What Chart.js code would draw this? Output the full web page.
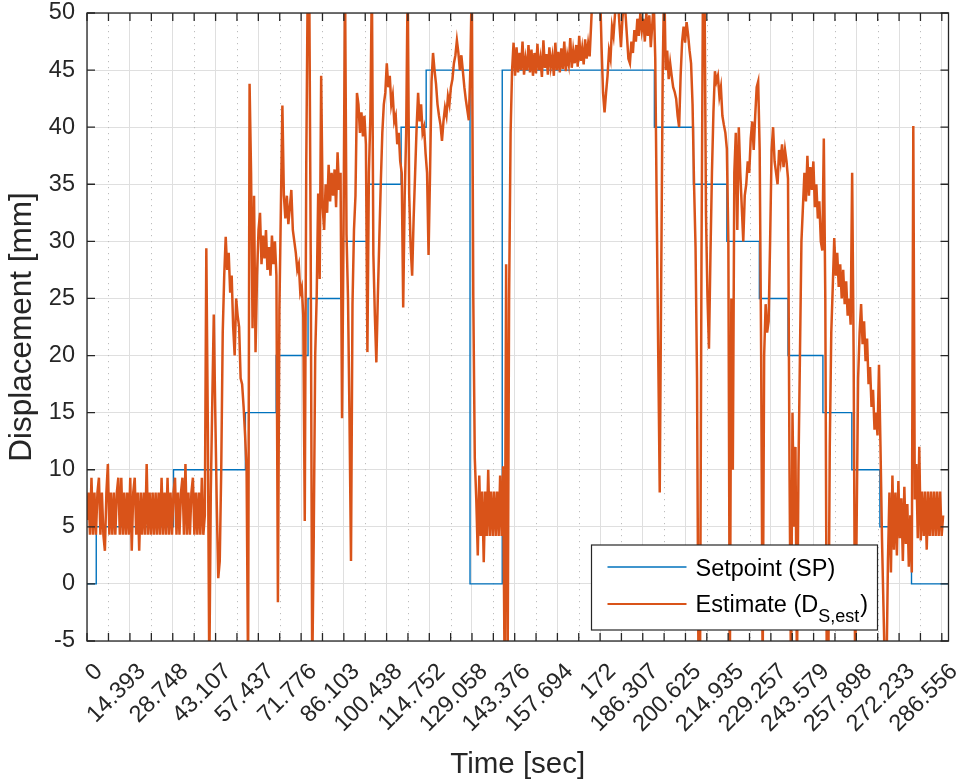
<!DOCTYPE html>
<html>
<head>
<meta charset="utf-8">
<script src="https://cdn.jsdelivr.net/npm/chart.js@4.4.1/dist/chart.umd.min.js"></script>
<style>
  html, body { margin: 0; padding: 0; background: #fff; }
  #wrap { width: 965px; height: 783px; }
</style>
</head>
<body>
<div id="wrap"><canvas id="plot" width="965" height="783"></canvas></div>
<script>
// tick values on the time axis (also used as the tick labels)
const xTicks = [0, 14.393, 28.748, 43.107, 57.437, 71.776, 86.103, 100.438, 114.752, 129.058,
  143.376, 157.694, 172, 186.307, 200.625, 214.935, 229.257, 243.579, 257.898, 272.233, 286.556];
const xMax = 288.8;

// setpoint: new value starts at the given time
const spTime  = [0, 3.1, 29.0, 53.1, 63.4, 74.1, 85.2, 94.2, 105.3, 113.7, 128.4, 139.2,
  190.2, 203.3, 214.5, 225.4, 235.0, 246.7, 256.4, 265.8, 276.4, 288.8];
const spValue = [0, 5, 10, 15, 20, 25, 30, 35, 40, 45, 0, 45,
  40, 35, 30, 25, 20, 15, 10, 5, 0, 0];

// estimate, one value every estStep seconds starting at t = 0
const estStep = 0.5;
const estValue = [
  5.6, 8, 4.3, 9.3, 4.3, 8, 4.3, 8, 9.3, 4.3, 8, 4.3, 2.9, 8, 10.5, 4.3, 8, 4.3, 8, 4.3,
  8, 9.3, 4.3, 9.3, 4.3, 8, 4.3, 8, 4.3, 9.3, 2.9, 8, 9.3, 4.3, 8, 2.9, 8, 4.3, 8, 4.3,
  10.5, 4.3, 8, 4.3, 8, 4.3, 8, 4.3, 8, 4.3, 9.3, 4.3, 8, 4.3, 9.3, 4.3, 8, 4.3, 8, 9.3,
  4.3, 8, 4.3, 8, 9.3, 4.3, 10.5, 4.3, 8, 4.3, 8, 9.3, 4.3, 8, 4.3, 8, 4.3, 9.3, 4.3, 6,
  29.4, 14, -8, 8, 16, 23.6, 15, 7, 0.5, 2, 10, 22, 27, 30.4, 27.5, 29, 25.5, 27, 22.5, 20,
  25, 23.5, 22.5, 18, 17.5, 15.5, 13, 10, -8, 43.8, 36, 22.4, 34, 20.3, 27, 31, 32.5, 28, 30.5, 28.5,
  31, 27.5, 29.5, 27, 30.5, 28, 30, 27, -1.6, 24, 33, 41.9, 34, 32, 34, 31.5, 33, 34.5, 31, 30,
  29, 27.5, 28, 25.5, 26, 23.5, 5.5, 36.7, 53, 53, 28.8, -8, 3.8, 20, 25.2, 34.2, 26.7, 44.5, 33, 31,
  35, 32.5, 36.7, 33.5, 36, 34, 36.3, 33, 37.8, 34.5, 36, 14.5, 31, 53, 30.6, 25, 14.5, 2, 24.5, 31,
  34, 43, 42, 39.5, 41.3, 39.2, 41, 38.5, 20.3, 36, 41, 53, 28.8, 23.5, 19.4, 25.2, 30.3, 35.2, 39.5, 42,
  43, 45.6, 43.5, 44.5, 42, 42.8, 40.5, 41, 38.5, 39.5, 37, 36, 24.2, 34, 39.5, 53, 34.2, 29.5, 27, 32,
  36, 40, 43, 40.5, 42, 39.5, 40, 37.7, 36, 28.8, 36, 44, 46.5, 45, 43.8, 42, 41, 40.2, 38.8, 40.5,
  41.7, 41, 42.7, 42, 43.5, 44.2, 45.6, 46.3, 47.6, 46.5, 45, 46.3, 44.9, 43.5, 42.4, 41.5, 40.6, 45, 53, 25,
  11, 7.4, 2.5, 9.5, 4.2, 8.1, 1.9, 8.1, 4.2, 10, 4.2, 8.1, 4.2, 8.1, 4.2, 8.1, 4.2, 9.5, 4.2, 10.3,
  -8, 28, -8, 25, 39.5, 45, 47.4, 44.5, 47, 44.8, 46.5, 45, 47.5, 44.6, 46, 45, 47.2, 44.8, 46.8, 44.5,
  46.5, 44.7, 47.3, 45, 46, 44.4, 47.6, 45.2, 46.4, 44.6, 47, 45.3, 46.2, 44.5, 47.4, 45, 46.6, 44.8, 46.9, 45.1,
  47.5, 44.9, 46.3, 45.5, 47.8, 45.2, 46.7, 45.6, 47.2, 45.3, 48, 45.8, 46.9, 45.5, 47.7, 46, 47.3, 46.2, 49, 52,
  53, 53, 53, 53, 52, 47, 43, 41.3, 43, 44.5, 46.7, 46, 48.8, 48, 49.9, 50.5, 51, 49, 47, 49.5,
  51, 50, 48, 46, 45.6, 47.5, 46.5, 48.5, 47.5, 49.5, 48, 50, 48.5, 49.5, 47.5, 50, 48, 49.8, 47, 49,
  51, 46, 32.4, 20, 8, 27, 45, 53, 45, 46.7, 44.2, 45.6, 44.5, 43.5, 43.1, 42.5, 41, 40, 44.5, 47.5,
  48.8, 47.4, 49.2, 48.1, 46.7, 45.6, 42, 35, 29.5, 18, -8, -8, 28.8, 53, 53, 32.4, 25.2, 20.6, 28.8, 36,
  41.3, 44.9, 44, 44.5, 42.7, 43.5, 41, 40.2, 39.5, 38.1, 30, -8, 25, 10, 36, 39.5, 31, 40, 36, 33,
  30, 34, 35, 37, 36, 39, 40.5, 38, 41, 43.5, 44, 38, 20, -8, 20, 24.5, 22, 23, 30, 38,
  40, 37, 36, 35, 38, 37, 38.5, 36.5, 38, 37, 35.5, 10, -8, 15, 5, 12, -8, 10, 20, 30,
  33, 36, 33.5, 37.5, 34, 36.5, 34.5, 37, 33, 35, 32, 33.5, 30, 29.2, 39, 25, -8, -8, 12, 22,
  26, 30.3, 27, 29, 26, 28, 25, 27.5, 24.5, 26.5, 23.5, 25, 22.7, 36, 20, -8, 5, 18, 22, 24.5,
  21, 23, 19.5, 21.5, 17.5, 19, 15.5, 17, 13.5, 15, 13, 19.2, 12, 4, -2, -8, -8, 2, 8, 1,
  9.5, 3, 8, 2.5, 9, 4, 7.5, 2, 8.5, 3.5, 7, 1.5, 6, 1, 40.1, 7.4, 10.5, 4, 12, 3.8,
  8.1, 4.2, 8.1, 3, 8.1, 4.2, 8.1, 4.2, 8.1, 4.2, 8.1, 4.2, 8.1, 4.2, 6
];

const FONT = "'Liberation Sans', Arial, Helvetica, sans-serif";
const AXIS = '#262626';
const BLUE = '#0072BD';
const ORANGE = '#D95319';

const spData = spTime.map((t, i) => ({ x: t, y: spValue[i] }));
const estData = estValue.map((v, i) => ({ x: i * estStep, y: v }));

// dotted minor grid, inward ticks, axes box and the legend
const matlabAxes = {
  id: 'matlabAxes',
  beforeDatasetsDraw(chart) {
    const { ctx, chartArea: a, scales: { x } } = chart;
    ctx.save();
    ctx.strokeStyle = '#bdbdbd';
    ctx.lineWidth = 1;
    ctx.setLineDash([1.2, 4.8]);
    for (let i = 0; i < xTicks.length - 1; i++) {
      const px = Math.round(x.getPixelForValue((xTicks[i] + xTicks[i + 1]) / 2)) + 0.5;
      ctx.beginPath();
      ctx.moveTo(px, a.top);
      ctx.lineTo(px, a.bottom);
      ctx.stroke();
    }
    ctx.restore();
  },
  afterDraw(chart) {
    const { ctx, chartArea: a, scales: { x, y } } = chart;
    ctx.save();
    ctx.strokeStyle = AXIS;
    ctx.lineWidth = 1.3;
    const tl = 8;
    const xs = [];
    xTicks.forEach((v, i) => {
      xs.push(v);
      if (i < xTicks.length - 1) xs.push((v + xTicks[i + 1]) / 2);
    });
    ctx.beginPath();
    xs.forEach(v => {
      const px = x.getPixelForValue(v);
      ctx.moveTo(px, a.bottom); ctx.lineTo(px, a.bottom - tl);
      ctx.moveTo(px, a.top); ctx.lineTo(px, a.top + tl);
    });
    y.ticks.forEach(t => {
      const py = y.getPixelForValue(t.value);
      ctx.moveTo(a.left, py); ctx.lineTo(a.left + tl, py);
      ctx.moveTo(a.right, py); ctx.lineTo(a.right - tl, py);
    });
    ctx.stroke();
    ctx.strokeRect(a.left, a.top, a.right - a.left, a.bottom - a.top);

    // legend
    const w = 286, h = 85;
    const lx = a.right - 71 - w, ly = a.bottom - 11 - h;
    ctx.fillStyle = '#fff';
    ctx.fillRect(lx, ly, w, h);
    ctx.lineWidth = 1.2;
    ctx.strokeRect(lx, ly, w, h);
    const rows = [
      { color: BLUE, y: ly + 22, width: 1.4 },
      { color: ORANGE, y: ly + 59, width: 1.8 }
    ];
    rows.forEach(r => {
      ctx.strokeStyle = r.color;
      ctx.lineWidth = r.width;
      ctx.beginPath();
      ctx.moveTo(lx + 16, r.y);
      ctx.lineTo(lx + 95, r.y);
      ctx.stroke();
    });
    ctx.fillStyle = '#000';
    ctx.textBaseline = 'alphabetic';
    ctx.textAlign = 'left';
    ctx.font = '23.5px ' + FONT;
    const tx = lx + 104;
    ctx.fillText('Setpoint (SP)', tx, ly + 31);
    const s1 = 'Estimate (D';
    ctx.fillText(s1, tx, ly + 67);
    let cx = tx + ctx.measureText(s1).width;
    ctx.font = '18px ' + FONT;
    ctx.fillText('S,est', cx, ly + 77);
    cx += ctx.measureText('S,est').width + 1;
    ctx.font = '23.5px ' + FONT;
    ctx.fillText(')', cx, ly + 67);
    ctx.restore();
  }
};

new Chart(document.getElementById('plot'), {
  type: 'line',
  data: {
    datasets: [
      {
        label: 'Setpoint (SP)',
        data: spData,
        stepped: 'before',
        borderColor: BLUE,
        borderWidth: 1.4,
        pointRadius: 0,
        order: 1
      },
      {
        label: 'Estimate (D_S,est)',
        data: estData,
        borderColor: ORANGE,
        borderWidth: 2.5,
        pointRadius: 0,
        tension: 0,
        order: 0
      }
    ]
  },
  options: {
    responsive: false,
    animation: false,
    events: [],
    layout: { padding: { left: 0, right: 16.5, top: 13, bottom: 0 } },
    plugins: { legend: { display: false }, tooltip: { enabled: false } },
    scales: {
      x: {
        type: 'linear',
        min: 0,
        max: xMax,
        afterBuildTicks: s => { s.ticks = xTicks.map(v => ({ value: v })); },
        afterFit: s => {
          s.height = 142;
          s.paddingLeft = 0; s.paddingRight = 0;
        },
        grid: { color: '#dfdfdf', lineWidth: 1, drawTicks: false },
        border: { display: false },
        ticks: {
          autoSkip: false,
          minRotation: 45,
          maxRotation: 45,
          padding: 17,
          labelOffset: 12,
          color: AXIS,
          font: { family: FONT, size: 23.5 },
          callback: v => String(v)
        },
        title: {
          display: true,
          text: 'Time [sec]',
          color: AXIS,
          font: { family: FONT, size: 29.5 },
          padding: { top: 0, bottom: 0 }
        }
      },
      y: {
        min: -5,
        max: 50,
        afterFit: s => {
          s.width = 87;
          s.paddingTop = 0; s.paddingBottom = 0;
        },
        grid: { color: '#dfdfdf', lineWidth: 1, drawTicks: false },
        border: { display: false },
        ticks: {
          stepSize: 5,
          padding: 12,
          color: AXIS,
          font: { family: FONT, size: 23.5 }
        },
        title: {
          display: true,
          text: 'Displacement [mm]',
          color: AXIS,
          font: { family: FONT, size: 31.5 },
          padding: { top: 3, bottom: 0 }
        }
      }
    }
  },
  plugins: [matlabAxes]
});
</script>
</body>
</html>
